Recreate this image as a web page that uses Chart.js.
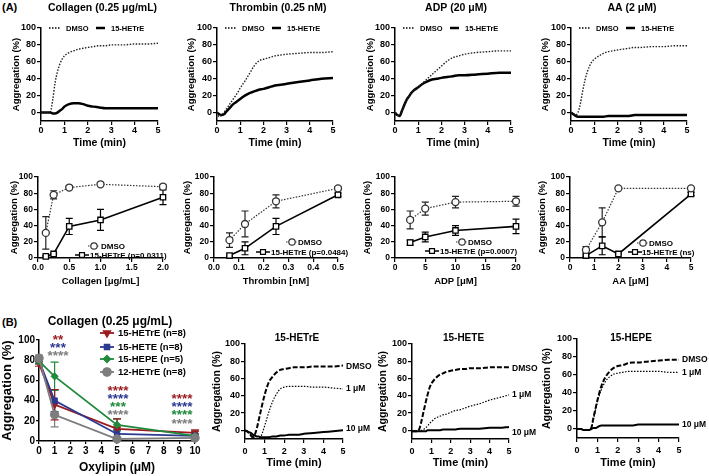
<!DOCTYPE html>
<html><head><meta charset="utf-8">
<script src="https://cdn.jsdelivr.net/npm/chart.js@4"></script>
<style>
html,body{margin:0;padding:0;background:#fff}
body{width:709px;height:476px;position:relative;overflow:hidden;font-family:"Liberation Sans",Arial,Helvetica,sans-serif}
canvas{position:absolute}
.lab{position:absolute;font-weight:bold;font-size:11px;line-height:11px;color:#000}
</style></head>
<body>
<div class="lab" style="left:2px;top:2px">(A)</div>
<div class="lab" style="left:2px;top:317px">(B)</div>
<script>
// ---------- DATA ----------
const timeMin = [0,0.1,0.2,0.3,0.4,0.5,0.6,0.7,0.8,0.9,1.0,1.2,1.4,1.6,1.8,2.0,2.25,2.5,2.75,3,3.5,4,4.5,5];
const traceYTicks = [0,20,40,60,80,100];
const timeTicks = [0,1,2,3,4,5];

// (A) traces
const collagenDMSO  = [0,0,0,0,1,15,35,48,57,63,67,71,73,75,76,77,78,79,79,80,80,81,81,82];
const collagenHETrE = [0,0,0,0,0,-1,-1,0,2,4,7,10,11,11,10,8,7,6,5,5,5,5,5,5];
const thrombinDMSO  = [0,-5,-3,0,4,8,12,16,20,24,29,37,46,55,61,63,65,67,68,69,70,71,71,72];
const thrombinHETrE = [0,-2,-3,-2,1,4,7,10,12,14,16,20,23,25,27,28,30,32,33,34,36,38,40,41];
const adpDMSO       = [0,-3,-4,2,9,15,19,23,26,28,30,35,40,45,50,55,61,65,67,69,71,72,73,73];
const adpHETrE      = [0,-3,-4,2,9,15,19,23,26,28,30,34,37,39,40,41,42,43,44,44,45,46,47,47];
const aaDMSO        = [0,-1,-3,0,10,25,38,48,55,60,63,67,70,72,73,74,75,76,77,77,78,78,79,79];
const aaHETrE       = [0,-2,-4,-5,-5,-5,-5,-5,-5,-5,-5,-5,-5,-4,-4,-4,-4,-4,-3,-3,-3,-3,-3,-3];

// (A) dose responses
const doseYTicks = [0,20,40,60,80,100];
const collagenDose = [0.125,0.25,0.5,1,2];
const collagenDoseDMSO = [31,78,87,91,88];
const collagenDoseDMSOErr = [20,5,2,2,3];
const collagenDoseHETrE = [2,5,39,47,75];
const collagenDoseHETrEErr = [1,1,10,13,9];
const collagenTicks = [0,0.5,1,1.5,2];
const thrombinDose = [0.0625,0.125,0.25,0.5];
const thrombinDoseDMSO = [22,42,70,86];
const thrombinDoseDMSOErr = [9,16,8,2];
const thrombinDoseHETrE = [3,12,39,78];
const thrombinDoseHETrEErr = [1,8,10,2];
const thrombinTicks = [0,0.1,0.2,0.3,0.4,0.5];
const adpDose = [2.5,5,10,20];
const adpDoseDMSO = [47,61,69,70];
const adpDoseDMSOErr = [11,8,7,6];
const adpDoseHETrE = [19,26,34,39];
const adpDoseHETrEErr = [3,6,6,9];
const adpTicks = [0,5,10,15,20];
const aaDose = [0.66,1.33,2,5];
const aaDoseDMSO = [10,44,86,86];
const aaDoseDMSOErr = [4,18,1,1];
const aaDoseHETrE = [3,15,5,79];
const aaDoseHETrEErr = [1,11,1,2];
const aaTicks = [0,1,2,3,4,5];

// (B) oxylipin concentration response
const oxyConc = [0,1,5,10];
const oxyTicks = [0,1,2,3,4,5,6,7,8,9,10];
const hetreMean = [77,36,12,8];   const hetreErr = [3,15,10,3];
const heteMean  = [80,40,7,5];    const heteErr  = [3,11,4,2];
const hepeMean  = [79,64,16,5];   const hepeErr  = [3,14,6,1];
const h12Mean   = [82,26,2,3];    const h12Err   = [3,12,1,1];

// (B) traces
const b1DMSO = [0,-1,-3,-6,-8,-5,2,12,22,32,41,55,62,67,70,71,72,73,73,73,74,74,74,75];
const b1Low  = [0,-1,-3,-5,-7,-9,-10,-10,-8,-2,5,20,33,42,48,50,51,51,51,51,50,50,49,48];
const b1High = [0,-1,-2,-3,-5,-6,-7,-7,-8,-8,-8,-8,-7,-7,-6,-6,-5,-5,-5,-4,-3,-2,-1,0];
const b2DMSO = [-1,-1,-1,-1,3,12,22,32,41,49,54,60,64,66,68,69,70,71,71,72,72,73,73,73];
const b2Low  = [-1,-1,-1,-1,-1,0,1,3,5,8,10,14,16,18,19,21,23,24,26,28,31,35,38,41];
const b2High = [-1,-1,-1,-1,-1,-1,-1,-1,0,0,0,0,0,1,1,1,1,2,2,2,2,3,3,4];
const b3DMSO = [0,0,0,-1,-1,-1,-1,1,12,22,32,48,58,64,68,70,71,73,74,74,75,76,77,77];
const b3Low  = [0,0,0,-1,-1,-1,-1,1,10,20,30,44,53,58,61,62,63,64,64,64,64,64,63,63];
const b3High = [0,0,0,-1,-1,-1,-1,0,1,1,2,4,4,4,4,4,4,4,4,5,5,5,5,5];

// ---------- HELPERS ----------
const FONT = '"Liberation Sans", Arial, Helvetica, sans-serif';
const fnt = (s, w) => (w || 'bold') + ' ' + s + 'px ' + FONT;
const xy = (xs, ys) => xs.map((x, i) => ({x: x, y: ys[i]}));
const RED = '#9a1b1f', BLUE = '#2b3990', GREEN = '#1f8a3b', GRAY = '#7d7d7d';

function drawMarker(ctx, style, x, y, r, stroke, fill, lw) {
  ctx.save();
  ctx.strokeStyle = stroke; ctx.fillStyle = fill; ctx.lineWidth = lw || 1.2;
  Chart.helpers.drawPoint(ctx, {pointStyle: style.s, rotation: style.rot || 0, radius: r, borderWidth: lw || 1.2}, x, y);
  ctx.restore();
}

function makePanel(o) {
  const yLH = o.yTitleSize * 1.2, xLH = o.xTitleSize * 1.2;
  const l = Math.round(o.ytx - yLH / 2);
  const t = Math.max(0, o.area.t - (o.topSpace || 30));
  const r = Math.min(709, o.area.r + (o.rightSpace || 30));
  const b = Math.min(476, Math.round(o.xty + xLH / 2));
  const cv = document.createElement('canvas');
  cv.width = r - l; cv.height = b - t;
  cv.style.left = l + 'px'; cv.style.top = t + 'px';
  cv.style.width = (r - l) + 'px'; cv.style.height = (b - t) + 'px';
  document.body.appendChild(cv);
  const tickLen = o.tickLen || 4;
  const extras = {
    id: 'extras',
    beforeDatasetsDraw(chart) {
      const ctx = chart.ctx, ys = chart.scales.y;
      chart.data.datasets.forEach((ds, i) => {
        if (!ds.errors) return;
        const meta = chart.getDatasetMeta(i);
        ctx.save();
        ctx.strokeStyle = ds.errorColor || ds.borderColor;
        ctx.lineWidth = 1.2;
        ctx.setLineDash([]);
        meta.data.forEach((pt, j) => {
          const e = ds.errors[j]; if (!e) return;
          const v = ds.data[j].y;
          const y1 = ys.getPixelForValue(v + e), y2 = ys.getPixelForValue(v - e);
          const w = ds.capWidth || 3.5;
          ctx.beginPath();
          ctx.moveTo(pt.x, y1); ctx.lineTo(pt.x, y2);
          ctx.moveTo(pt.x - w, y1); ctx.lineTo(pt.x + w, y1);
          ctx.moveTo(pt.x - w, y2); ctx.lineTo(pt.x + w, y2);
          ctx.stroke();
        });
        ctx.restore();
      });
    },
    afterDraw(chart) {
      const ctx = chart.ctx;
      ctx.save();
      chart.data.datasets.forEach((ds, i) => {
        if (!ds.endLabel) return;
        const meta = chart.getDatasetMeta(i);
        const pt = meta.data[meta.data.length - 1];
        ctx.font = fnt(o.endSize || 8.5);
        ctx.fillStyle = '#000'; ctx.textAlign = 'left'; ctx.textBaseline = 'middle';
        ctx.fillText(ds.endLabel, pt.x + 3, pt.y + (ds.endDy || 0));
      });
      (o.legend || []).forEach(g => {
        ctx.save();
        ctx.strokeStyle = g.color || '#000'; ctx.lineWidth = g.width || 1.2;
        ctx.setLineDash(g.dash || []);
        ctx.beginPath(); ctx.moveTo(g.x1 - l, g.y - t); ctx.lineTo(g.x2 - l, g.y - t); ctx.stroke();
        ctx.setLineDash([]);
        if (g.marker) drawMarker(ctx, g.marker, g.mx - l, g.y - t, g.mr || 3.5, g.mstroke || g.color || '#000', g.mfill || '#fff', g.mlw);
        ctx.font = fnt(g.size || 7.5);
        ctx.fillStyle = '#000'; ctx.textAlign = 'left'; ctx.textBaseline = 'middle';
        ctx.fillText(g.text, g.tx - l, g.y - t + 0.5);
        ctx.restore();
      });
      (o.texts || []).forEach(s => {
        ctx.font = fnt(s.size, s.weight);
        ctx.fillStyle = s.color || '#000';
        ctx.textAlign = s.align || 'center'; ctx.textBaseline = 'middle';
        ctx.fillText(s.t, s.x - l, s.y - t);
      });
      ctx.restore();
    }
  };
  const axisCommon = () => ({
    grid: {display: true, drawOnChartArea: false, drawTicks: true, tickLength: tickLen, color: '#000', lineWidth: 1.2},
    border: {display: true, color: '#000', width: 1.5}
  });
  return new Chart(cv, {
    type: 'line',
    data: {datasets: o.datasets},
    options: {
      responsive: false, animation: false, events: [],
      layout: {padding: {left: 0, bottom: 0, top: o.area.t - t, right: r - o.area.r}},
      plugins: {legend: {display: false}, tooltip: {enabled: false}, title: {display: false}},
      elements: {line: {cubicInterpolationMode: 'monotone'}},
      scales: {
        x: Object.assign(axisCommon(), {
          type: 'linear', min: o.xMin, max: o.xMax,
          afterBuildTicks: s => { s.ticks = o.xTicks.map(v => ({value: v})); },
          afterFit: s => { s.height = b - o.area.b; },
          ticks: {font: {family: FONT, size: o.tickSize, weight: 'bold'}, color: '#000', padding: o.xPad == null ? 1 : o.xPad,
                  maxRotation: 0, autoSkip: false, callback: v => o.xFmt ? v.toFixed(o.xFmt) : String(v)},
          title: {display: true, text: o.xTitle, color: '#000', font: {family: FONT, size: o.xTitleSize, weight: 'bold'}, padding: {top: 0, bottom: 0}}
        }),
        y: Object.assign(axisCommon(), {
          type: 'linear', min: o.yMin, max: o.yMax,
          afterBuildTicks: s => { s.ticks = o.yTicks.map(v => ({value: v})); },
          afterFit: s => { s.width = o.area.l - l; },
          ticks: {font: {family: FONT, size: o.tickSize, weight: 'bold'}, color: '#000', padding: 1, autoSkip: false},
          title: {display: true, text: 'Aggregation (%)', color: '#000', font: {family: FONT, size: o.yTitleSize, weight: 'bold'}, padding: {top: 0, bottom: 0}}
        })
      }
    },
    plugins: [extras]
  });
}

// ---------- (A) TOP: traces ----------
function tracePanel(area, ytx, title, dmso, hetre) {
  const cx = (area.l + area.r) / 2 + 3;
  makePanel({
    area: area, ytx: ytx, xty: 143, yTitleSize: 9.5, xTitleSize: 10.5, tickSize: 9, xPad: 0,
    xMin: 0, xMax: 5, xTicks: timeTicks, yMin: -10, yMax: 100, yTicks: traceYTicks,
    xTitle: 'Time (min)', topSpace: 40,
    datasets: [
      {data: xy(timeMin, dmso), borderColor: '#222', borderWidth: 1.4, borderDash: [1.5, 1.5], pointRadius: 0},
      {data: xy(timeMin, hetre), borderColor: '#000', borderWidth: 2.5, pointRadius: 0}
    ],
    legend: [
      {x1: area.l + 8, x2: area.l + 19, y: area.t, dash: [1.5, 1.5], width: 1.3, text: 'DMSO', tx: area.l + 25},
      {x1: area.l + 55, x2: area.l + 64, y: area.t, width: 2.5, text: '15-HETrE', tx: area.l + 70}
    ],
    texts: [{t: title, x: cx, y: 8, size: 10.5}]
  });
}
tracePanel({l: 41, t: 28, r: 158, b: 121}, 17, 'Collagen (0.25 μg/mL)', collagenDMSO, collagenHETrE);
tracePanel({l: 217, t: 28, r: 333, b: 121}, 192, 'Thrombin (0.25 nM)', thrombinDMSO, thrombinHETrE);
tracePanel({l: 395, t: 28, r: 511, b: 121}, 371, 'ADP (20 μM)', adpDMSO, adpHETrE);
tracePanel({l: 571, t: 28, r: 687, b: 121}, 546, 'AA (2 μM)', aaDMSO, aaHETrE);

// ---------- (A) MIDDLE: dose responses ----------
function dosePanel(area, ytx, xTitle, xMax, xTicks, xFmt, dose, dm, dmE, he, heE, leg) {
  makePanel({
    area: area, ytx: ytx, xty: 281, yTitleSize: 9.5, xTitleSize: 9.5, tickSize: 8.5, xPad: 1,
    xMin: 0, xMax: xMax, xTicks: xTicks, xFmt: xFmt, yMin: 0, yMax: 100, yTicks: doseYTicks,
    xTitle: xTitle, rightSpace: 18,
    datasets: [
      {data: xy(dose, dm), errors: dmE, errorColor: '#222', borderColor: '#333', borderWidth: 1.2, borderDash: [1.5, 1.5],
       pointRadius: 3.5, pointStyle: 'circle', pointBackgroundColor: '#fff', pointBorderColor: '#333', pointBorderWidth: 1.3,
       cubicInterpolationMode: 'default', tension: 0, clip: false},
      {data: xy(dose, he), errors: heE, errorColor: '#000', borderColor: '#000', borderWidth: 1.6,
       pointRadius: 3.8, pointStyle: 'rect', pointBackgroundColor: '#fff', pointBorderColor: '#000', pointBorderWidth: 1.3,
       cubicInterpolationMode: 'default', tension: 0, clip: false}
    ],
    legend: [
      {x1: leg.c1 - 6, x2: leg.c1 + 6, y: leg.y1, dash: [1.5, 1.5], color: '#333', marker: {s: 'circle'}, mx: leg.c1, mr: 3.2, mstroke: '#333', text: 'DMSO', tx: leg.t1, size: 8},
      {x1: leg.c2 - 7, x2: leg.c2 + 7, y: leg.y2, width: 1.5, marker: {s: 'rect'}, mx: leg.c2, mr: 3.5, text: leg.txt, tx: leg.t2, size: 8}
    ]
  });
}
dosePanel({l: 38, t: 177, r: 163, b: 258}, 15, 'Collagen [μg/mL]', 2, collagenTicks, 1,
  collagenDose, collagenDoseDMSO, collagenDoseDMSOErr, collagenDoseHETrE, collagenDoseHETrEErr,
  {c1: 94, t1: 101, y1: 246, c2: 82, t2: 90, y2: 255, txt: '15-HETrE (p=0.0311)'});
dosePanel({l: 214, t: 177, r: 338, b: 258}, 188, 'Thrombin [nM]', 0.5, thrombinTicks, 1,
  thrombinDose, thrombinDoseDMSO, thrombinDoseDMSOErr, thrombinDoseHETrE, thrombinDoseHETrEErr,
  {c1: 292, t1: 298, y1: 242, c2: 263, t2: 271, y2: 252, txt: '15-HETrE (p=0.0484)'});
dosePanel({l: 395, t: 177, r: 516, b: 258}, 368, 'ADP [μM]', 20, adpTicks, 0,
  adpDose, adpDoseDMSO, adpDoseDMSOErr, adpDoseHETrE, adpDoseHETrEErr,
  {c1: 462, t1: 468, y1: 242, c2: 432, t2: 440, y2: 251, txt: '15-HETrE (p=0.0007)'});
dosePanel({l: 570, t: 177, r: 691, b: 258}, 543, 'AA [μM]', 5, aaTicks, 0,
  aaDose, aaDoseDMSO, aaDoseDMSOErr, aaDoseHETrE, aaDoseHETrEErr,
  {c1: 643, t1: 649, y1: 243, c2: 635, t2: 642, y2: 252, txt: '15-HETrE (ns)'});

// ---------- (B) LEFT: oxylipin ----------
const oxySeries = [
  {label: '12-HETrE (n=8)', mean: h12Mean, err: h12Err, color: GRAY, style: {s: 'circle'}, r: 4.2},
  {label: '15-HEPE (n=5)', mean: hepeMean, err: hepeErr, color: GREEN, style: {s: 'rectRot'}, r: 3.6},
  {label: '15-HETE (n=8)', mean: heteMean, err: heteErr, color: BLUE, style: {s: 'rect'}, r: 3.8},
  {label: '15-HETrE (n=8)', mean: hetreMean, err: hetreErr, color: RED, style: {s: 'triangle', rot: 180}, r: 4.2}
];
const legRows = [372, 359, 347, 333];
const starTexts = [
  ['**', 58, 337, RED], ['***', 58, 345, BLUE], ['****', 58, 353, GRAY],
  ['****', 118, 388, RED], ['****', 118, 396, BLUE], ['***', 118, 404, GREEN], ['****', 118, 412, GRAY],
  ['****', 182, 396, RED], ['****', 182, 404, BLUE], ['****', 182, 412, GREEN], ['****', 182, 421, GRAY]
];
makePanel({
  area: {l: 39, t: 340, r: 195, b: 441}, ytx: 8, xty: 468, yTitleSize: 13, xTitleSize: 12, tickSize: 10, tickLen: 3, xPad: 1,
  xMin: 0, xMax: 10, xTicks: oxyTicks, yMin: 0, yMax: 100, yTicks: doseYTicks,
  xTitle: 'Oxylipin (μM)', rightSpace: 15, topSpace: 30,
  datasets: oxySeries.map(s => ({
    data: xy(oxyConc, s.mean), errors: s.err, borderColor: s.color, borderWidth: 1.8,
    pointRadius: s.r, pointStyle: s.style.s, rotation: s.style.rot || 0,
    pointBackgroundColor: s.color, pointBorderColor: s.color, pointBorderWidth: 1,
    cubicInterpolationMode: 'default', tension: 0, clip: false, capWidth: 4
  })),
  legend: oxySeries.map((s, i) => ({
    x1: 100, x2: 114, y: legRows[i], color: s.color, width: 1.8, marker: s.style, mx: 107, mr: s.r, mfill: s.color, mstroke: s.color,
    text: s.label, tx: 118, size: 9.5
  })),
  texts: [{t: 'Collagen (0.25 μg/mL)', x: 110, y: 322, size: 12}].concat(
    starTexts.map(a => ({t: a[0], x: a[1], y: a[2] + 3, size: 13.5, color: a[3]})))
});

// ---------- (B) RIGHT: traces ----------
function bPanel(area, ytx, title, dm, lo, hi, dys) {
  makePanel({
    area: area, ytx: ytx, xty: 463, yTitleSize: 10.5, xTitleSize: 11, tickSize: 9, xPad: 3,
    xMin: 0, xMax: 5, xTicks: timeTicks, yMin: -10, yMax: 100, yTicks: traceYTicks,
    xTitle: 'Time (min)', rightSpace: 30, endSize: 8.5,
    datasets: [
      {data: xy(timeMin, dm), borderColor: '#000', borderWidth: 2, borderDash: [5, 2], pointRadius: 0, endLabel: 'DMSO', endDy: dys[0]},
      {data: xy(timeMin, lo), borderColor: '#000', borderWidth: 1.2, borderDash: [1.5, 1.5], pointRadius: 0, endLabel: '1 μM', endDy: dys[1]},
      {data: xy(timeMin, hi), borderColor: '#000', borderWidth: 2, pointRadius: 0, endLabel: '10 μM', endDy: dys[2]}
    ],
    texts: [{t: title, x: (area.l + area.r) / 2 + 3, y: 338, size: 10}]
  });
}
bPanel({l: 245, t: 344, r: 343, b: 439}, 217, '15-HETrE', b1DMSO, b1Low, b1High, [1, 0, -2]);
bPanel({l: 412, t: 344, r: 509, b: 439}, 383, '15-HETE', b2DMSO, b2Low, b2High, [1, 0, 6]);
bPanel({l: 577, t: 339, r: 679, b: 438}, 547, '15-HEPE', b3DMSO, b3Low, b3High, [0, 0, 0]);
</script>
</body></html>
